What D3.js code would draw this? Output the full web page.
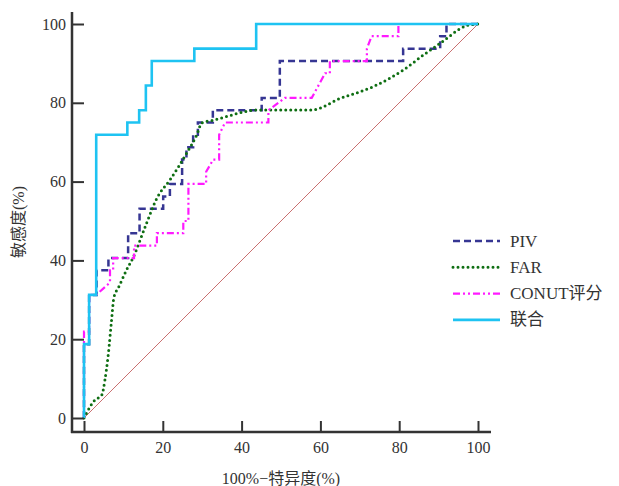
<!DOCTYPE html>
<html><head><meta charset="utf-8">
<script src="https://cdn.jsdelivr.net/npm/d3@7"></script>
<style>body{margin:0;background:#fff}svg{display:block}</style>
</head><body>
<svg id="c" width="619" height="486"></svg>
<script>
const xTicks = [0, 20, 40, 60, 80, 100];
const yTicks = [0, 20, 40, 60, 80, 100];
const seriesNames = ["PIV", "FAR", "CONUT评分", "联合"];

const pivX = [0,0,1.3,1.3,3.2,3.2,6.2,6.2,11.2,11.2,14.1,14.1,20.1,20.1,21.8,21.8,24.9,24.9,26.0,26.0,27.7,27.7,28.9,28.9,32.7,32.7,45.1,45.1,49.7,49.7,81.0,81.0,90.4,90.4,92.0,92.0,100];
const pivY = [0,18.75,18.75,31.25,31.25,37.5,37.5,40.6,40.6,46.9,46.9,53.1,53.1,56.25,56.25,59.4,59.4,65.6,65.6,68.75,68.75,71.9,71.9,75,75,78.1,78.1,81.25,81.25,90.6,90.6,93.75,93.75,96.9,96.9,100,100];

const farX = [0,0.25,2.8,4.5,5.3,6.2,7.0,7.6,8.7,10.8,12.4,15.9,18.5,21.8,26.1,28.6,29.9,32.8,44.7,57.8,65.0,73.4,81.0,86.1,90.4,97.5,100];
const farY = [0,0.5,4.6,5.8,9.6,16.5,24.9,30.7,33.0,37.6,40.6,49.5,55.8,60.4,67.3,71.8,74.9,75.6,78.2,78.2,81.1,84.1,88.3,92.1,95.1,99.7,100];

const conX = [0,0,1.3,1.3,3.1,6.6,6.6,7.4,7.4,12.7,12.7,18.5,18.5,25.2,25.2,26.5,26.5,31.0,31.0,32.8,34.3,34.3,35.8,46.8,46.8,51.0,57.8,61.2,62.4,62.4,71.8,71.8,73.0,79.8,79.8,100];
const conY = [0,21.9,21.9,31.25,31.25,34.4,37.5,37.5,40.6,40.6,43.75,43.75,46.9,46.9,50,50,59.4,59.4,62.5,65.6,65.6,71.9,75,75,78.1,81.25,81.25,87.5,87.5,90.6,90.6,93.75,96.9,96.9,100,100];

const combX = [0,0,1.3,1.3,3.1,3.1,11.0,11.0,14.0,14.0,15.7,15.7,17.2,17.2,28.0,28.0,43.7,43.7,100];
const combY = [0,18.75,18.75,31.25,31.25,71.9,71.9,75,75,78.1,78.1,84.4,84.4,90.6,90.6,93.75,93.75,100,100];

const svg = d3.select("#c");
const x = d3.scaleLinear().domain([0,100]).range([84,478]);
const y = d3.scaleLinear().domain([0,100]).range([418,24]);
const FONT = "'Liberation Serif','Noto Sans CJK SC',serif";
const AX = "#333";

// diagonal reference
svg.append("line").attr("x1",x(0)).attr("y1",y(0)).attr("x2",x(100)).attr("y2",y(100))
  .attr("stroke","#c97070").attr("stroke-width",1);

const line = d3.line().x(d=>x(d[0])).y(d=>y(d[1]));
const styles = [
  {name: seriesNames[0], xs: pivX, ys: pivY, color:"#363693", w:2.5, dash:"7,4", cap:"butt"},
  {name: seriesNames[1], xs: farX, ys: farY, color:"#0e6e12", w:3, dash:"0,5", cap:"round", curve:true},
  {name: seriesNames[2], xs: conX, ys: conY, color:"#ff1aff", w:2.2, dash:"7,3,2,3,2,3", cap:"butt"},
  {name: seriesNames[3], xs: combX, ys: combY, color:"#1ec3f2", w:2.6, dash:null, cap:"butt"}
];
styles.forEach(s=>{
  const pts = s.xs.map((v,i)=>[v, s.ys[i]]);
  const l = s.curve ? d3.line().x(d=>x(d[0])).y(d=>y(d[1])).curve(d3.curveMonotoneX) : line;
  svg.append("path").attr("d", l(pts)).attr("fill","none")
    .attr("stroke", s.color).attr("stroke-width", s.w)
    .attr("stroke-dasharray", s.dash).attr("stroke-linecap", s.cap)
    .attr("stroke-linejoin","miter");
});

// axes
const xAxis = d3.axisBottom(x).tickValues(xTicks).tickSizeInner(-11).tickSizeOuter(0).tickPadding(10);
const gx = svg.append("g").attr("transform","translate(0,432)").call(xAxis);
const yAxis = d3.axisLeft(y).tickValues(yTicks).tickSizeInner(-12).tickSizeOuter(0).tickPadding(6);
const gy = svg.append("g").attr("transform","translate(72,0)").call(yAxis);
[gx,gy].forEach(g=>{
  g.select(".domain").remove();
  g.selectAll(".tick line").attr("stroke",AX).attr("stroke-width",2);
  g.selectAll(".tick text").attr("fill","#333").style("font-family",FONT).style("font-size","16px");
});
svg.append("line").attr("x1",72).attr("x2",72).attr("y1",12).attr("y2",433).attr("stroke",AX).attr("stroke-width",2.5);
svg.append("line").attr("x1",71).attr("x2",491).attr("y1",432).attr("y2",432).attr("stroke",AX).attr("stroke-width",2.5);

// axis titles
svg.append("text").attr("x",281).attr("y",484).attr("text-anchor","middle")
  .style("font-family",FONT).style("font-size","16px").attr("fill","#333").text("100%−特异度(%)");
svg.append("text").attr("transform","translate(24,222) rotate(-90)").attr("text-anchor","middle")
  .style("font-family",FONT).style("font-size","16px").attr("fill","#333").text("敏感度(%)");

// legend
const leg = svg.append("g");
styles.forEach((s,i)=>{
  const yy = 241 + i*26.3;
  leg.append("line").attr("x1",453).attr("x2",500).attr("y1",yy).attr("y2",yy)
    .attr("stroke",s.color).attr("stroke-width",s.w).attr("stroke-dasharray",s.dash).attr("stroke-linecap",s.cap);
  leg.append("text").attr("x",510).attr("y",yy+5.5).style("font-family",FONT).style("font-size","17px")
    .attr("fill","#333").text(s.name);
});
</script>
</body></html>
